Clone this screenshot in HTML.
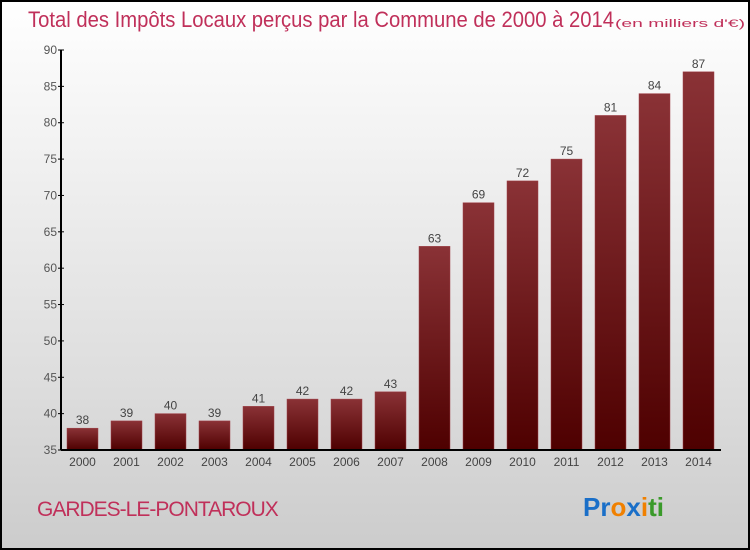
<!DOCTYPE html>
<html><head><meta charset="utf-8"><style>
body{margin:0}
#c{width:750px;height:550px;position:relative;box-sizing:border-box;border:2px solid #000;background:linear-gradient(#fff,#f0f0f0 30%,#ddd 70%,#ccc);font-family:"Liberation Sans",sans-serif;overflow:hidden}
</style></head><body>
<div id="c">
<svg width="746" height="546" style="position:absolute;left:0;top:0" id="s">
<defs><linearGradient id="g" x1="0" y1="0" x2="0" y2="1"><stop offset="0" stop-color="#8a3236"/><stop offset="1" stop-color="#4e0000"/></linearGradient></defs>
<text x="26" y="25" font-size="22" fill="#c0305a" textLength="586" lengthAdjust="spacingAndGlyphs">Total des Impôts Locaux perçus par la Commune de 2000 à 2014</text>
<text x="613" y="25" font-size="11" fill="#c0305a" textLength="130" lengthAdjust="spacingAndGlyphs">(en milliers d'€)</text>
<text x="35" y="514" font-size="21" fill="#c0305a" letter-spacing="-1">GARDES-LE-PONTAROUX</text>
<text x="581" y="514" font-size="26" font-weight="bold"><tspan fill="#1a6fc8">Pr</tspan><tspan fill="#f08000">o</tspan><tspan fill="#1a6fc8">x</tspan><tspan fill="#f08000">i</tspan><tspan fill="#3a9a2a">ti</tspan></text>
<g id="plot"></g>
</svg>
</div>
<script>
const years=["2000","2001","2002","2003","2004","2005","2006","2007","2008","2009","2010","2011","2012","2013","2014"];
const values=[38,39,40,39,41,42,42,43,63,69,72,75,81,84,87];
const yTicks=[35,40,45,50,55,60,65,70,75,80,85,90];
const NS="http://www.w3.org/2000/svg";
const g=document.getElementById('plot');
const y=v=>448-(v-35)*400/55;
const x=i=>65+i*44;
function mk(t,a){const e=document.createElementNS(NS,t);for(const k in a)e.setAttribute(k,a[k]);g.appendChild(e);return e;}
values.forEach((v,i)=>{
 const r=mk('rect',{x:x(i),y:y(v),width:31,height:448-y(v),fill:'url(#g)',stroke:'#a04048','stroke-width':0.5});
 
 
 const t=mk('text',{x:x(i)+15.5,y:y(v)-4,'font-size':12,fill:'#444','text-anchor':'middle'});t.textContent=v;
 
 
 const l=mk('text',{x:x(i)+15.5,y:464,'font-size':12,fill:'#444','text-anchor':'middle'});l.textContent=years[i];
 
 
});
yTicks.forEach(v=>{
 mk('line',{x1:56,x2:62,y1:y(v),y2:y(v),stroke:'#000'});
 const t=mk('text',{x:55,y:y(v)+4,'font-size':12,fill:'#555','text-anchor':'end'});t.textContent=v;
 
 
});
const ya=mk('line',{x1:59,x2:59,y1:y(90),y2:448,stroke:'#000','stroke-width':2});


const xa=mk('line',{x1:59,x2:719,y1:448,y2:448,stroke:'#000','stroke-width':2});


</script>
</body></html>
